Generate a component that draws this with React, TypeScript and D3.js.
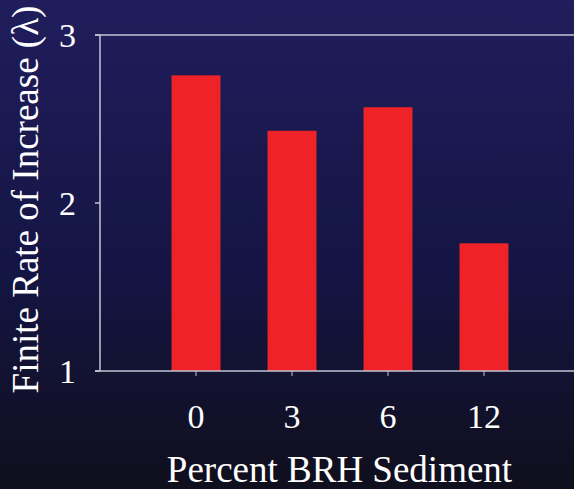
import React from "react";
import * as d3 from "d3";

const categories = ["0", "3", "6", "12"];
const values = [2.76, 2.43, 2.57, 1.76];
const yTicks = [1, 2, 3];
const xTitle = "Percent BRH Sediment";
const yTitle = "Finite Rate of Increase (λ)";

const W = 574;
const H = 489;
const left = 100;
const top = 35;
const bottom = 371;
const right = 574;

export default function App() {
  const y = d3.scaleLinear().domain([1, 3]).range([bottom, top]);
  const x = d3
    .scaleBand<string>()
    .domain(categories)
    .range([124.5, 555.5])
    .paddingInner(0.49)
    .paddingOuter(0.49);
  const font = "'Liberation Serif', 'Times New Roman', serif";
  const axisColor = "#c4c4d4";
  return (
    <svg
      width={W}
      height={H}
      style={{ position: "fixed", left: 0, top: 0, display: "block" }}
    >
      <defs>
        <linearGradient id="bg" x1="0" y1="0" x2="0" y2="1">
          <stop offset="0" stopColor="#201d5c" />
          <stop offset="0.55" stopColor="#141544" />
          <stop offset="1" stopColor="#100f1d" />
        </linearGradient>
      </defs>
      <rect x={0} y={0} width={W} height={H} fill="url(#bg)" />
      {categories.map((c, i) => (
        <rect
          key={c}
          x={x(c)}
          y={y(values[i])}
          width={x.bandwidth()}
          height={y(1) - y(values[i])}
          fill="#ee2227"
        />
      ))}
      <line x1={95} x2={right} y1={top} y2={top} stroke={axisColor} strokeWidth={1.5} />
      <line x1={95} x2={right} y1={bottom} y2={bottom} stroke={axisColor} strokeWidth={1.5} />
      <line x1={left} x2={left} y1={top} y2={bottom} stroke={axisColor} strokeWidth={1.5} />
      {yTicks.map((t) => (
        <g key={t}>
          <line x1={95} x2={left} y1={y(t)} y2={y(t)} stroke={axisColor} strokeWidth={1.5} />
          <text
            x={76}
            y={y(t)}
            dy="0.34em"
            textAnchor="end"
            fill="#ffffff"
            fontFamily={font}
            fontSize={34}
          >
            {t}
          </text>
        </g>
      ))}
      {categories.map((c) => {
        const cx = (x(c) as number) + x.bandwidth() / 2;
        return (
          <g key={c}>
            <line x1={cx} x2={cx} y1={bottom} y2={bottom + 5} stroke={axisColor} strokeWidth={1} />
            <text
              x={cx}
              y={428}
              textAnchor="middle"
              fill="#ffffff"
              fontFamily={font}
              fontSize={34}
            >
              {c}
            </text>
          </g>
        );
      })}
      <text
        x={339.5}
        y={482}
        textAnchor="middle"
        fill="#ffffff"
        fontFamily={font}
        fontSize={37}
      >
        {xTitle}
      </text>
      <text
        transform={`translate(38, 199.5) rotate(-90)`}
        textAnchor="middle"
        fill="#ffffff"
        fontFamily={font}
        fontSize={37}
      >
        {yTitle}
      </text>
    </svg>
  );
}
